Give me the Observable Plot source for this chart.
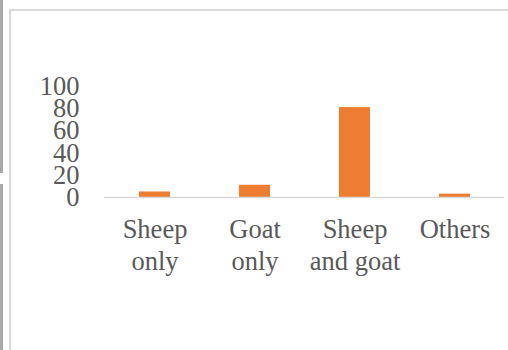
<!DOCTYPE html>
<html>
<head>
<meta charset="utf-8">
<script src="https://cdn.jsdelivr.net/npm/d3@7"></script>
<script src="https://cdn.jsdelivr.net/npm/@observablehq/plot@0.6"></script>
<style>
  html, body { margin: 0; padding: 0; background: #fff; }
  #wrap { position: relative; width: 508px; height: 350px; overflow: hidden; background: #fff; }
  #wrap svg { position: absolute; left: 0; top: 0; }
  .edge { position: absolute; background: #a9a9a9; }
  .frame { position: absolute; background: #dadada; }
</style>
</head>
<body>
<div id="wrap">
  <div class="edge" style="left:0;top:0;width:3px;height:173px"></div>
  <div class="edge" style="left:0;top:184px;width:3px;height:166px"></div>
  <div class="frame" style="left:9px;top:9px;width:2px;height:341px"></div>
  <div class="frame" style="left:9px;top:9px;width:499px;height:2px"></div>
</div>
<script>
// Share of flocks by species kept (%)
const categories = ["Sheep\nonly", "Goat\nonly", "Sheep\nand goat", "Others"];
const shares = [5, 11, 81, 3];
const yTicks = [0, 20, 40, 60, 80, 100];

const data = categories.map((c, i) => ({category: c, share: shares[i]}));

const chart = Plot.plot({
  width: 508,
  height: 350,
  marginLeft: 104,
  marginRight: 4,
  marginTop: 86,
  marginBottom: 153,
  style: {fontFamily: "'Liberation Serif', 'Times New Roman', serif", fontSize: "26.5px", color: "#595959", background: "transparent"},
  x: {domain: categories, paddingInner: 0.69, paddingOuter: 0.345, label: null},
  y: {domain: [0, 100], label: null},
  marks: [
    Plot.barY(data, {x: "category", y: "share", fill: "#ED7D31"}),
    Plot.ruleY([0], {stroke: "#d9d9d9", strokeWidth: 1.5}),
    Plot.axisY({ticks: yTicks, tickSize: 0, tickPadding: 25, label: null, fontSize: 26.5, fill: "#595959"}),
    Plot.axisX({tickSize: 0, tickPadding: 18, label: null, fontSize: 26.5, fill: "#595959", lineHeight: 1.2})
  ]
});
document.getElementById("wrap").prepend(chart);
</script>
</body>
</html>
